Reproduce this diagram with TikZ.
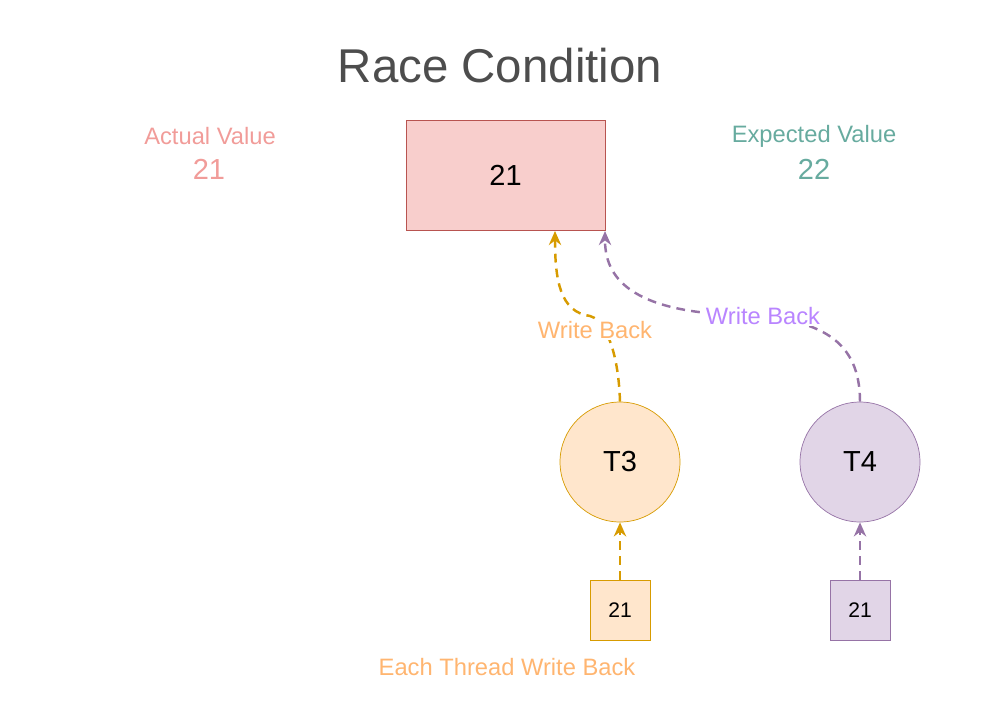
\documentclass[tikz,border=0pt]{standalone}
\usepackage{fontspec}
\setmainfont{Liberation Sans}
\usetikzlibrary{arrows.meta}

\definecolor{titlegray}{HTML}{4D4D4D}
\definecolor{redfill}{HTML}{F8CECC}
\definecolor{redline}{HTML}{B85450}
\definecolor{orangefill}{HTML}{FFE6CC}
\definecolor{orangeline}{HTML}{D79B00}
\definecolor{purplefill}{HTML}{E1D5E7}
\definecolor{purpleline}{HTML}{9673A6}
\definecolor{actualcol}{HTML}{F19C99}
\definecolor{expectcol}{HTML}{67AB9F}
\definecolor{wborange}{HTML}{FFB570}
\definecolor{wbpurple}{HTML}{B985FF}

\begin{document}
\begin{tikzpicture}[
    x=0.02cm, y=-0.02cm,
    >={Stealth[length=8pt, width=7pt]},
    valuebox/.style={draw, rectangle, minimum height=2.2cm, minimum width=3.98cm, fill=redfill, draw=redline, font=\fontsize{16.5}{19}\selectfont},
    thread/.style={draw, circle, minimum size=2.4cm, inner sep=0pt, font=\fontsize{16.5}{19}\selectfont},
    local/.style={draw, rectangle, minimum size=1.2cm, inner sep=0pt, font=\fontsize{12}{14}\selectfont},
    wb/.style={->, line width=1.4pt, dash pattern=on 5pt off 3.5pt},
    lbl/.style={font=\fontsize{13.5}{16}\selectfont, fill=white, inner sep=1pt}
]
\useasboundingbox (0,0) rectangle (1000,700);

% Title
\node[text=titlegray, font=\fontsize{27}{32}\selectfont] (title) at (500,66) {Race Condition};

% Shared value
\node[valuebox] (shared) at (505.5,175) {21};

\node[text=actualcol, font=\fontsize{13.5}{16}\selectfont] (actual) at (210,136) {Actual Value};
\node[text=actualcol, font=\fontsize{16.5}{19}\selectfont] (actualv) at (209,169) {21};
\node[text=expectcol, font=\fontsize{13.5}{16}\selectfont] (expect) at (814,136) {Expected Value};
\node[text=expectcol, font=\fontsize{16.5}{19}\selectfont] (expectv) at (814,169) {22};

% Threads
\node[thread, fill=orangefill, draw=orangeline] (t3) at (620,462) {T3};
\node[thread, fill=purplefill, draw=purpleline] (t4) at (860,462) {T4};

% Local copies
\node[local, fill=orangefill, draw=orangeline] (c3) at (620,610) {21};
\node[local, fill=purplefill, draw=purpleline] (c4) at (860,610) {21};

\node[text=wborange, font=\fontsize{13.5}{16}\selectfont] (each) at (507,667) {Each Thread Write Back};

% Local copies to threads
\draw[wb, orangeline] (c3) -- (t3);
\draw[wb, purpleline] (c4) -- (t4);

% Write back to shared value
\coordinate (in3) at (555,231);
\coordinate (in4) at (605,231);
\draw[wb, orangeline] (t3.north) .. controls (618,340) and (600,318) .. (590,316)
    .. controls (560,312) and (555,280) .. (in3);
\draw[wb, purpleline] (t4.north) .. controls (860,340) and (820,318) .. (740,315)
    .. controls (620,312) and (605,270) .. (in4);
\node[lbl, text=wbpurple] (wb4) at (763,316) {Write Back};
\node[lbl, text=wborange] (wb3) at (595,330) {Write Back};

\end{tikzpicture}
\end{document}
